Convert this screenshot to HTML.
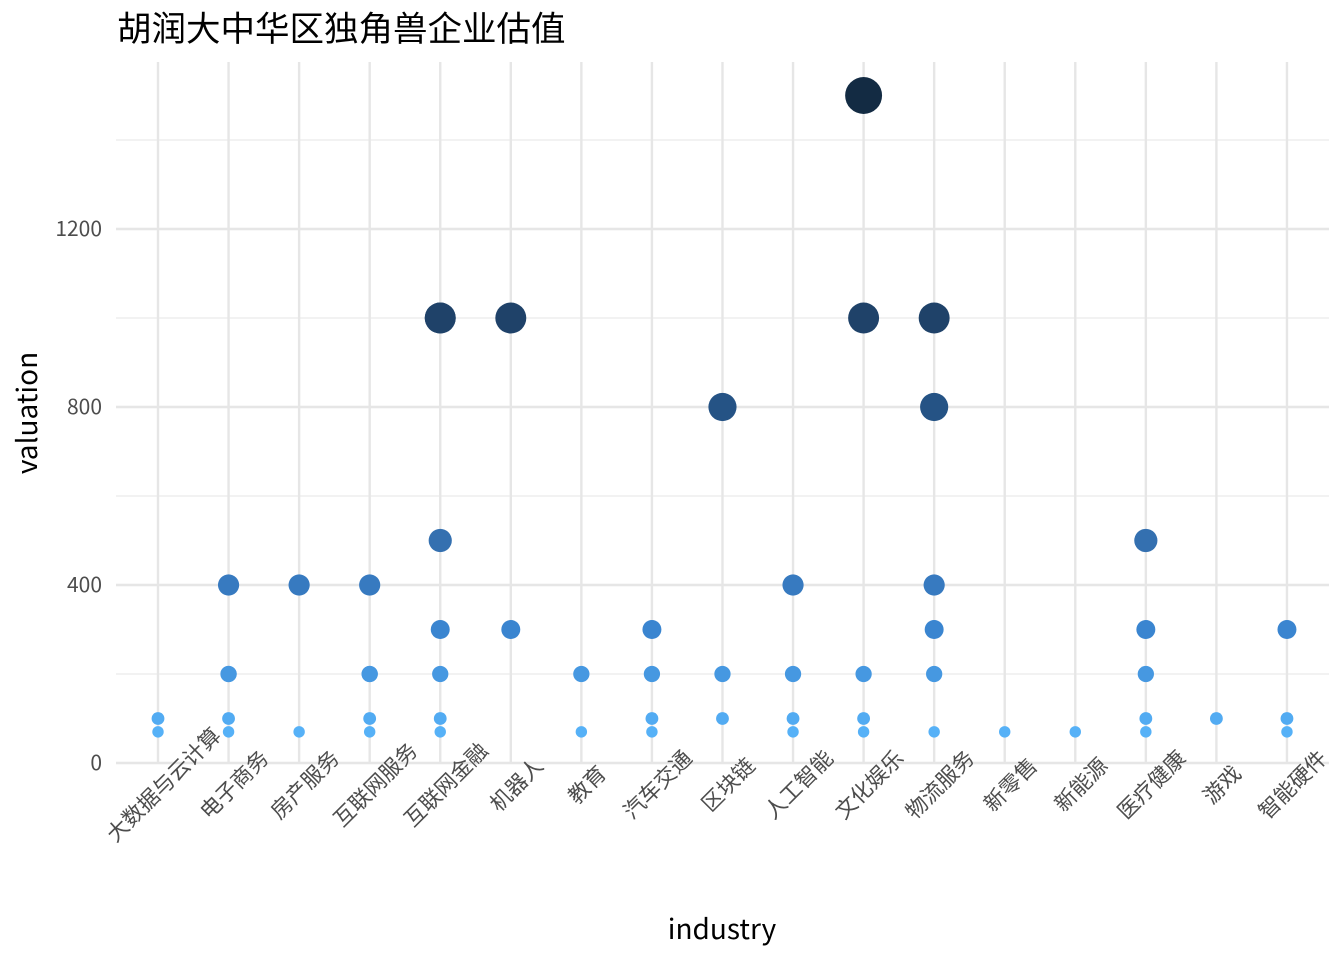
<!DOCTYPE html>
<html><head><meta charset="utf-8"><style>
body{margin:0;background:#fff}
svg{font-family:"Noto Sans CJK SC","Liberation Sans",sans-serif}
</style></head><body>
<svg id="c" width="1344" height="960" xmlns="http://www.w3.org/2000/svg">
<text x="117" y="41" font-size="34.5" fill="#000">胡润大中华区独角兽企业估值</text>
<g id="grid"></g><g id="pts"></g><g id="ax"></g>
<text x="722" y="939" font-size="28" text-anchor="middle" fill="#000">industry</text>
<text transform="translate(37,413) rotate(-90)" font-size="28" text-anchor="middle" fill="#000">valuation</text>
</svg>
<script>
const categories=["大数据与云计算","电子商务","房产服务","互联网服务","互联网金融","机器人","教育","汽车交通","区块链","人工智能","文化娱乐","物流服务","新零售","新能源","医疗健康","游戏","智能硬件"];
const values=[[100,70],[400,200,200,100,70],[400,70],[400,200,200,100,70],[1000,1000,500,300,200,100,70],[1000,300],[200,70],[300,200,100,70],[800,200,100],[400,200,100,70],[1500,1000,200,100,70],[1000,800,400,300,200,70],[70],[70],[500,300,200,100,70],[100],[300,100,70]];
const yTicks=[0,400,800,1200];
const yMinor=[200,600,1000,1400];
const NS="http://www.w3.org/2000/svg";
const X=i=>158+i*70.56;
const Y=v=>763-v*0.445;
function mk(t,a,p){const e=document.createElementNS(NS,t);for(const k in a)e.setAttribute(k,a[k]);p.appendChild(e);return e;}
const g=document.getElementById('grid'),ax=document.getElementById('ax'),pts=document.getElementById('pts');
yMinor.forEach(v=>{const l=mk('line',{x1:116,x2:1329,y1:Y(v),y2:Y(v),stroke:'#ebebeb','stroke-width':1.3},g);

});
yTicks.forEach(v=>{const l=mk('line',{x1:116,x2:1329,y1:Y(v),y2:Y(v),stroke:'#e6e6e6','stroke-width':2.4},g);


const t=mk('text',{x:102,y:Y(v)+7,'font-size':21,'text-anchor':'end',fill:'#4d4d4d'},ax);t.textContent=v;

});
categories.forEach((c,i)=>{const l=mk('line',{x1:X(i),x2:X(i),y1:62,y2:763,stroke:'#e6e6e6','stroke-width':2.4},g);


const t=mk('text',{transform:`translate(${X(i)+5},${784}) rotate(-45)`,'font-size':21.5,'text-anchor':'middle','dominant-baseline':'central',fill:'#4d4d4d'},ax);t.textContent=c;

});
const stopF=[0,0.16,0.3,0.51,0.65,1];
const stopC=[[86,177,247],[58,133,208],[52,112,176],[37,83,133],[31,66,105],[19,43,67]];
function col(v){const f=Math.min(1,Math.max(0,(v-70)/(1500-70)));let k=0;while(k<stopF.length-2&&f>stopF[k+1])k++;
const t=(f-stopF[k])/(stopF[k+1]-stopF[k]);return `rgb(${stopC[k].map((a,j)=>Math.round(a+(stopC[k+1][j]-a)*t)).join(',')})`;}
values.forEach((arr,i)=>arr.forEach(v=>{const c=mk('circle',{cx:X(i),cy:Y(v),r:2.2+0.42*Math.sqrt(v),fill:col(v)},pts);

}));
</script>
</body></html>
